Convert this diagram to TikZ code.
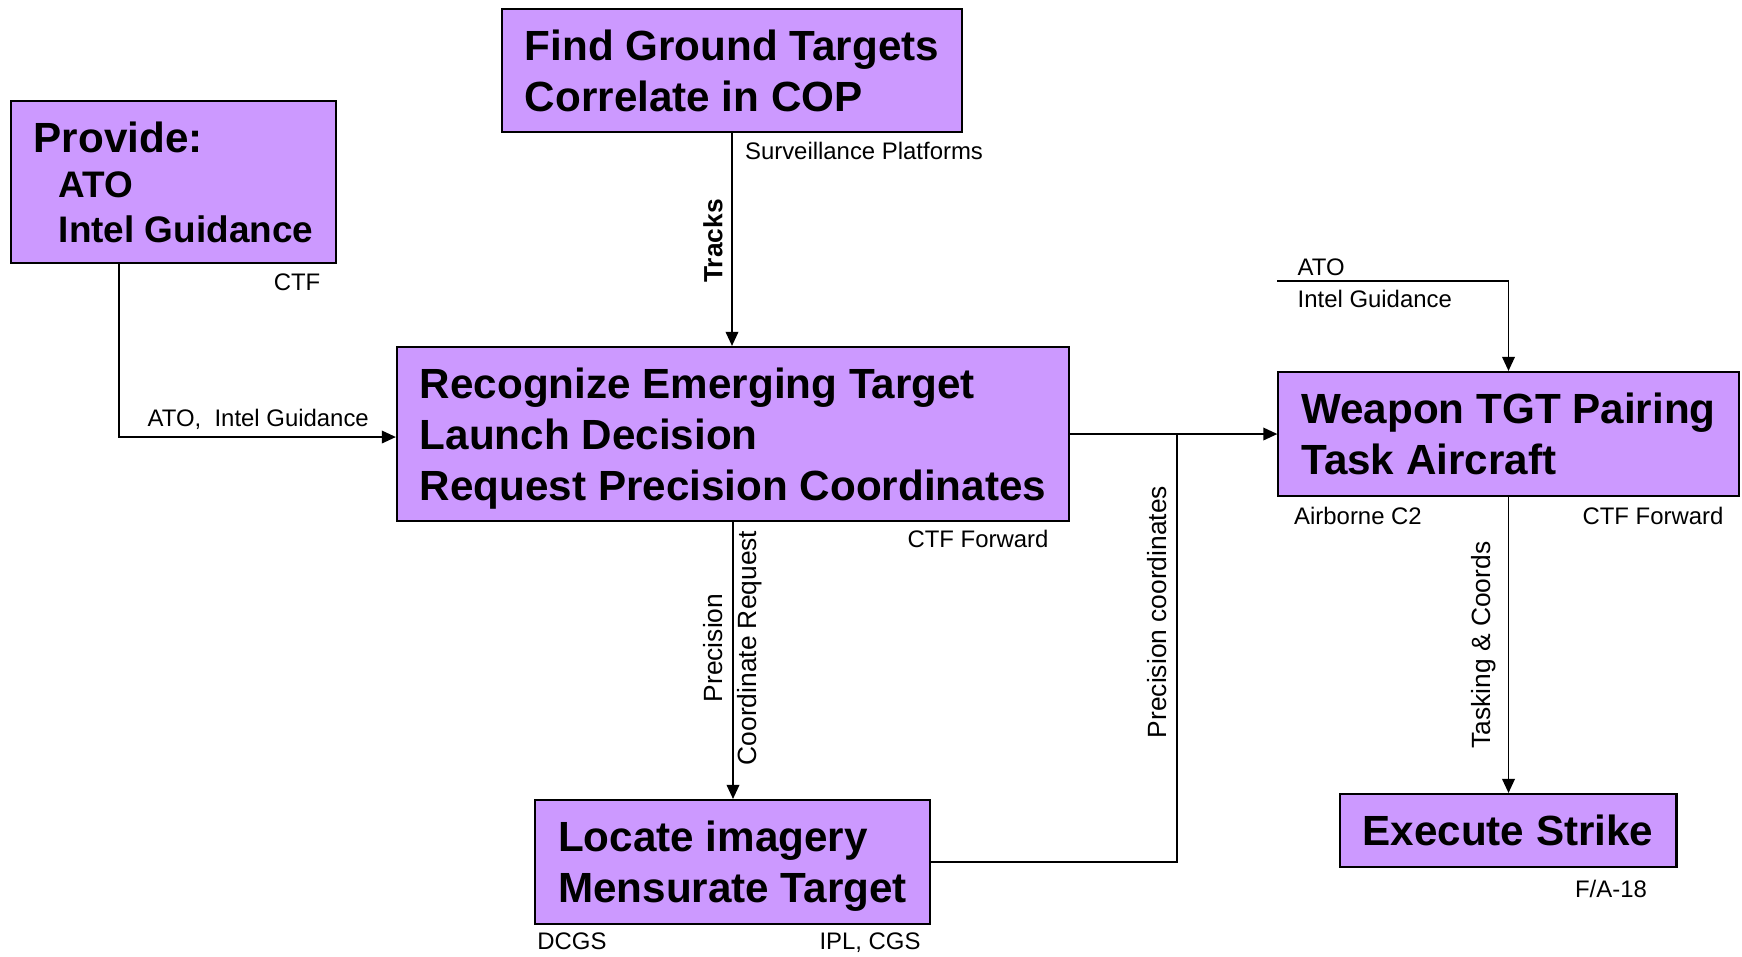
\documentclass[tikz,border=0pt]{standalone}
\usepackage{fontspec}
\setmainfont{Liberation Sans}
\usetikzlibrary{arrows.meta,calc}
\definecolor{boxfill}{HTML}{CC99FF}
\definecolor{ink}{HTML}{000000}
\tikzset{
  box/.style={draw=ink, fill=boxfill, line width=0.6pt, align=left, inner xsep=0.23cm, inner ysep=0pt,
    text depth=0pt, font=\bfseries\fontsize{12}{14.5}\selectfont},
  wire/.style={draw=ink, line width=0.45pt},
  arr/.style={wire, -{Triangle[length=4pt,width=3.6pt]}},
  lab/.style={text=ink, inner sep=0pt, font=\fontsize{6.8}{9.1}\selectfont},
  labr/.style={text=ink, inner sep=0pt, rotate=90, align=center, font=\fontsize{7.5}{9.6}\selectfont},
  labb/.style={labr, font=\bfseries\fontsize{7.5}{9.6}\selectfont},
}

\begin{document}
\begin{tikzpicture}[x=0.01cm,y=-0.01cm]
  \useasboundingbox (0,0) rectangle (1742,956);

  % activity boxes
  \node[box, minimum height=1.62cm, font=\bfseries\fontsize{10.5}{12.8}\selectfont] (provide) at (173.5,182)
    {{\fontsize{12}{12.8}\selectfont Provide:}\\\hspace*{0.25cm}ATO\\\hspace*{0.25cm}Intel Guidance};
  \node[box, minimum height=1.23cm] (find) at (732,70.5) {Find Ground Targets\\Correlate in COP};
  \node[box, minimum height=1.74cm] (recog) at (733,434)
    {Recognize Emerging Target\\Launch Decision\\Request Precision Coordinates};
  \node[box, minimum height=1.24cm] (locate) at (732.5,862) {Locate imagery\\Mensurate Target};
  \node[box, minimum height=1.24cm] (weapon) at (1508.5,434) {Weapon TGT Pairing\\Task Aircraft};
  \node[box, minimum height=0.73cm] (strike) at (1508,830.5) {Execute Strike};

  \coordinate (merge) at (1177,434); % coords join the tasking line
  \coordinate (atoin) at (1277,281);

  \draw[arr] (find.south) -- (find.south |- recog.north);
  \draw[arr] (recog.south) -- (recog.south |- locate.north);
  \draw[arr] (weapon.south) -- (weapon.south |- strike.north);
  \draw[arr] ([xshift=-0.545cm]provide.south) |- ([yshift=-0.03cm]recog.west);
  \draw[arr] (recog.east) -- (weapon.west);
  \draw[wire] (locate.east) -| (merge);
  \draw[arr] (atoin) -| (weapon.north);

  % flow labels
  \node[labb] (tracks) at (713,241) {Tracks};
  \node[labr] (pcreq) at (733,648) {Precision\\Coordinate Request};
  \node[labr] (pcoord) at (1157,612) {Precision coordinates};
  \node[labr] (tasking) at (1484,645) {Tasking \& Coords};
  \node[lab, anchor=west] (atoleft) at (147,419) {ATO,\ \ Intel Guidance};
  \node[lab, align=left, anchor=west] (atoright) at (1297,283) {ATO\\Intel Guidance};

  % who does it
  \node[lab] (ctfa) at (297,282) {CTF};
  \node[lab] (survpl) at (864,151) {Surveillance Platforms};
  \node[lab] (ctfb) at (978,539) {CTF Forward};
  \node[lab] (dcgs) at (572,941) {DCGS};
  \node[lab] (iplcgs) at (870,943) {IPL, CGS};
  \node[lab] (airc2) at (1358,516) {Airborne C2};
  \node[lab] (ctfc) at (1653,516) {CTF Forward};
  \node[lab] (fa18) at (1611,889) {F/A-18};
\end{tikzpicture}
\end{document}
